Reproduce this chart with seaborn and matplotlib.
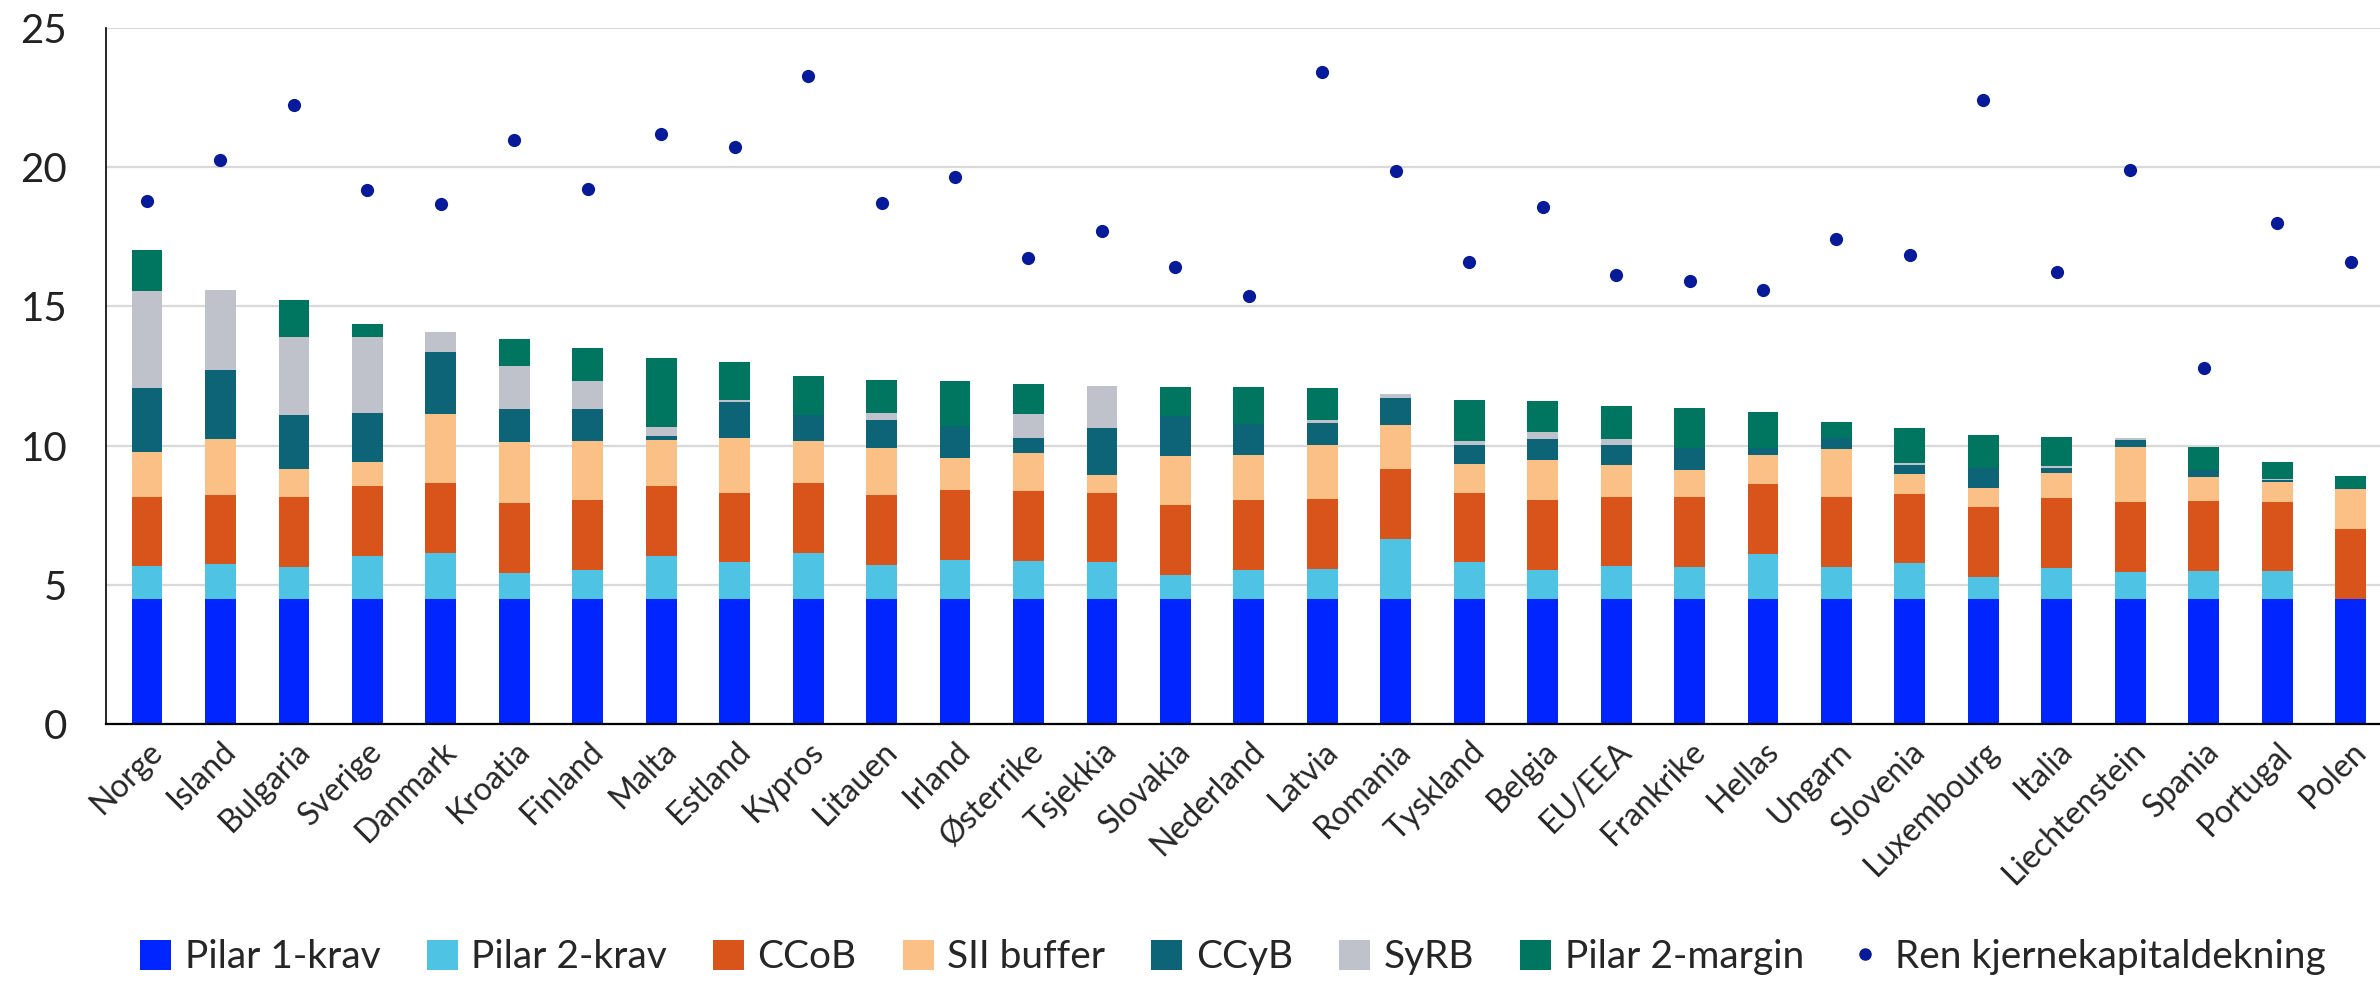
import numpy as np
import pandas as pd
import matplotlib
matplotlib.use("Agg")
import matplotlib.pyplot as plt
from matplotlib import font_manager as fm
from matplotlib.patches import Patch
from matplotlib.lines import Line2D
import seaborn as sns

countries = ["Norge", "Island", "Bulgaria", "Sverige", "Danmark", "Kroatia", "Finland",
             "Malta", "Estland", "Kypros", "Litauen", "Irland", "Østerrike", "Tsjekkia",
             "Slovakia", "Nederland", "Latvia", "Romania", "Tyskland", "Belgia", "EU/EEA",
             "Frankrike", "Hellas", "Ungarn", "Slovenia", "Luxembourg", "Italia",
             "Liechtenstein", "Spania", "Portugal", "Polen"]

pilar1 = [4.5] * 31
pilar2 = [1.17, 1.24, 1.15, 1.55, 1.64, 0.93, 1.03, 1.55, 1.31, 1.64, 1.22, 1.40, 1.36, 1.31,
          0.86, 1.03, 1.07, 2.15, 1.31, 1.03, 1.17, 1.14, 1.61, 1.14, 1.27, 0.79, 1.10,
          0.96, 1.00, 0.98, 0.00]
ccob = [2.5] * 31
sii = [1.60, 2.00, 1.00, 0.87, 2.49, 2.19, 2.14, 1.66, 1.98, 1.53, 1.71, 1.16, 1.37, 0.64,
       1.75, 1.62, 1.94, 1.60, 1.02, 1.46, 1.13, 0.97, 1.07, 1.73, 0.70, 0.69, 0.90,
       1.98, 0.88, 0.73, 1.43]
ccyb = [2.30, 2.46, 1.96, 1.76, 2.23, 1.20, 1.13, 0.14, 1.26, 0.94, 0.99, 1.13, 0.55, 1.67,
        1.45, 1.13, 0.79, 0.97, 0.68, 0.75, 0.71, 0.80, 0.25, 0.42, 0.33, 0.70, 0.21,
        0.27, 0.23, 0.05, 0.03]
syrb = [3.50, 2.90, 2.78, 2.71, 0.72, 1.54, 1.02, 0.33, 0.10, 0.00, 0.26, 0.00, 0.85, 1.52,
        0.00, 0.00, 0.12, 0.14, 0.14, 0.26, 0.23, 0.00, 0.00, 0.00, 0.07, 0.00, 0.04,
        0.07, 0.00, 0.03, 0.00]
margin = [1.45, 0.00, 1.34, 0.47, 0.00, 0.97, 1.20, 2.47, 1.36, 1.40, 1.19, 1.63, 1.10, 0.00,
          1.05, 1.31, 1.15, 0.00, 1.47, 1.10, 1.20, 1.43, 1.29, 0.56, 1.27, 1.20, 1.06,
          0.00, 0.83, 0.63, 0.44]
cet1 = [18.80, 20.27, 22.24, 19.19, 18.67, 20.97, 19.21, 21.18, 20.74, 23.29, 18.72, 19.66,
        16.75, 17.72, 16.40, 15.37, 23.41, 19.85, 16.61, 18.56, 16.12, 15.91, 15.58, 17.43,
        16.84, 22.42, 16.24, 19.91, 12.77, 17.99, 16.61]

series = ["Pilar 1-krav", "Pilar 2-krav", "CCoB", "SII buffer", "CCyB", "SyRB", "Pilar 2-margin"]
colors = ["#0025ff", "#4fc3e3", "#d8541b", "#fbc085", "#0d6477", "#bfc2ca", "#007560"]
dot_color = "#061a9a"

df = pd.DataFrame({"land": countries, "Pilar 1-krav": pilar1, "Pilar 2-krav": pilar2,
                   "CCoB": ccob, "SII buffer": sii, "CCyB": ccyb, "SyRB": syrb,
                   "Pilar 2-margin": margin, "CET1": cet1})
cum = df[series].cumsum(axis=1)
cum["land"] = df["land"]

names = {f.name for f in fm.fontManager.ttflist}
main_font = "Lato" if "Lato" in names else "DejaVu Sans"

sns.set_style("white")
plt.rcParams["font.family"] = [main_font, "DejaVu Sans"]

fig = plt.figure(figsize=(23.8, 9.83), dpi=100)
ax = fig.add_axes([0.0445, 0.2635, 0.9555, 0.708])

# stack by drawing cumulative totals from top layer down
for s, c in reversed(list(zip(series, colors))):
    sns.barplot(data=cum, x="land", y=s, color=c, width=0.42, order=countries,
                saturation=1, linewidth=0, ax=ax, zorder=2)

sns.stripplot(data=df, x="land", y="CET1", order=countries, jitter=False, color=dot_color,
              size=9.5, linewidth=0, ax=ax, zorder=3)

ax.set_ylim(0, 25)
ax.set_xlim(-0.56, 30.4)
ax.set_yticks([0, 5, 10, 15, 20, 25])
ax.yaxis.grid(True, color="#d9d9d9", linewidth=1.6, zorder=0)
ax.set_axisbelow(True)
ax.set_xlabel("")
ax.set_ylabel("")
for side in ["top", "right"]:
    ax.spines[side].set_visible(False)
ax.spines["left"].set_color("black")
ax.spines["bottom"].set_color("black")
ax.spines["left"].set_linewidth(1.2)
ax.spines["bottom"].set_linewidth(1.6)
ax.tick_params(axis="y", length=0, pad=28, labelsize=29, labelcolor="#222222")
ax.tick_params(axis="x", length=0, pad=9, labelsize=23)
plt.setp(ax.get_xticklabels(), rotation=45, ha="right", va="top", rotation_mode="anchor")

handles = [Patch(facecolor=c, edgecolor="none") for c in colors]
handles.append(Line2D([0], [0], marker="o", linestyle="none", color=dot_color, markersize=8))
labels = series + ["Ren kjernekapitaldekning"]
fig.legend(handles, labels, loc="center", bbox_to_anchor=(0.518, 0.026), ncol=8,
           frameon=False, handlelength=0.8, handleheight=0.8, handletextpad=0.35,
           columnspacing=1.18, prop={"family": main_font, "size": 28})

fig.savefig("out.png", dpi=100)
